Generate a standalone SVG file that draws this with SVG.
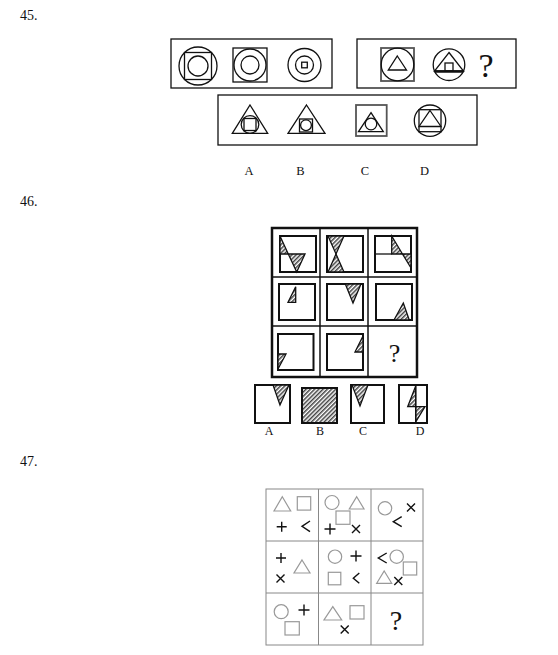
<svg xmlns="http://www.w3.org/2000/svg" width="558" height="655" viewBox="0 0 558 655">
<style>
.t{font-family:"Liberation Serif","Times New Roman",serif;fill:#111}
.k{fill:none;stroke:#111;stroke-width:1.3}
.g{fill:none;stroke:#555;stroke-width:1.8}
.th{fill:none;stroke:#111;stroke-width:2}
.h{fill:url(#hatch);stroke:#111;stroke-width:1.3;stroke-linejoin:miter}
.gr{fill:none;stroke:#999;stroke-width:1.2}
.bk{fill:none;stroke:#111;stroke-width:1.4}
.gl{fill:none;stroke:#888;stroke-width:1}
</style>
<defs>
<pattern id="hatch" patternUnits="userSpaceOnUse" width="3" height="3" patternTransform="rotate(45)">
<rect width="3" height="3" fill="#fff"/>
<line x1="0.8" y1="0" x2="0.8" y2="3" stroke="#111" stroke-width="1.2"/>
</pattern>
</defs>
<rect width="558" height="655" fill="#fff"/>

<g id="labels">
<text class="t" x="20" y="20" font-size="14">45.</text>
<text class="t" x="20" y="206" font-size="14">46.</text>
<text class="t" x="20" y="466" font-size="14">47.</text>
</g>

<!-- Problem 45 -->
<g id="q45-box1">
<rect class="k" x="171" y="39" width="161" height="49"/>
<circle class="k" cx="198" cy="66" r="19"/>
<rect class="k" x="184.5" y="52.5" width="27" height="27"/>
<circle class="k" cx="198" cy="66" r="10"/>
<rect class="k" x="233" y="48" width="34" height="34"/>
<circle class="k" cx="250" cy="65" r="16"/>
<circle class="k" cx="250" cy="65" r="9"/>
<circle class="k" cx="304.5" cy="65" r="16.5"/>
<circle class="k" cx="304.5" cy="65" r="9"/>
<rect class="k" x="301.7" y="62.2" width="5.6" height="5.6"/>
</g>
<g id="q45-box2">
<rect class="k" x="357" y="39" width="159" height="49"/>
<rect class="g" x="381" y="48" width="33" height="33"/>
<circle class="k" cx="397.5" cy="64.5" r="16.3"/>
<polygon class="k" points="397.3,56 406.5,70 388.3,70"/>
<circle class="k" cx="449" cy="64.7" r="15.8"/>
<polygon class="k" points="449,52.5 463.5,71 434.5,71"/>
<line x1="434.5" y1="71.5" x2="463.5" y2="71.5" stroke="#111" stroke-width="2.5"/>
<rect class="k" x="445" y="63" width="8" height="8"/>
<text class="t" x="486" y="77" font-size="34" text-anchor="middle">?</text>
</g>
<g id="q45-options">
<rect class="k" x="218" y="95" width="259" height="50"/>
<polygon class="k" points="250,105 267.7,133.3 232.3,133.3"/>
<circle class="k" cx="250" cy="124.5" r="8.8"/>
<rect class="k" x="244" y="118.5" width="12" height="12"/>
<polygon class="k" points="306.5,105 325,133.3 288,133.3"/>
<rect class="k" x="299.5" y="119" width="13" height="13"/>
<circle class="k" cx="306" cy="125.2" r="5.4"/>
<rect class="g" x="356" y="105" width="30.7" height="31"/>
<polygon class="k" points="371,112.7 383.3,131.7 358.5,131.7"/>
<circle class="k" cx="371" cy="124" r="5.8"/>
<circle class="k" cx="430" cy="120.7" r="15.7"/>
<rect class="k" x="419" y="109.7" width="22" height="22"/>
<polygon class="k" points="430,110.5 441,126.5 419,126.5"/>
</g>
<g id="q45-letters">
<text class="t" x="249" y="175" font-size="12.5" text-anchor="middle">A</text>
<text class="t" x="300.5" y="175" font-size="12.5" text-anchor="middle">B</text>
<text class="t" x="365" y="175" font-size="12.5" text-anchor="middle">C</text>
<text class="t" x="424.5" y="175" font-size="12.5" text-anchor="middle">D</text>
</g>

<!-- Problem 46 -->
<g id="q46-grid">
<rect x="272" y="228" width="145" height="149" fill="none" stroke="#111" stroke-width="2.5"/>
<line x1="320" y1="228" x2="320" y2="377" stroke="#111" stroke-width="1.5"/>
<line x1="368" y1="228" x2="368" y2="377" stroke="#111" stroke-width="1.5"/>
<line x1="272" y1="277" x2="417" y2="277" stroke="#111" stroke-width="1.5"/>
<line x1="272" y1="326" x2="417" y2="326" stroke="#111" stroke-width="1.5"/>
</g>
<g id="q46-c11" transform="translate(280,236)">
<rect class="th" width="36" height="36"/>
<polygon class="h" points="0,0 0,18 8.3,18"/>
<polygon class="h" points="8.3,18 25,18 16.7,36"/>
</g>
<g id="q46-c12" transform="translate(327,236)">
<rect class="th" width="36" height="36"/>
<polygon class="h" points="1,0 17,0 9,18"/>
<polygon class="h" points="9,18 17,36 1,36"/>
</g>
<g id="q46-c13" transform="translate(375,236)">
<rect class="th" width="36" height="36"/>
<polygon class="h" points="16.7,0 16.7,18 27.5,18"/>
<polygon class="h" points="27.5,18 36,18 36,32"/>
<line x1="0" y1="18" x2="16.7" y2="18" stroke="#111" stroke-width="1.3"/>
</g>
<g id="q46-c21" transform="translate(279,284)">
<rect class="th" width="36" height="36"/>
<polygon class="h" points="16.7,2.7 16.7,18.3 9,18.3"/>
</g>
<g id="q46-c22" transform="translate(327,284)">
<rect class="th" width="36" height="36"/>
<polygon class="h" points="18.3,0 34,0 26,19"/>
</g>
<g id="q46-c23" transform="translate(376,284)">
<rect class="th" width="36" height="36"/>
<polygon class="h" points="27.3,19 33.3,36 18,36"/>
</g>
<g id="q46-c31" transform="translate(278,334)">
<rect class="th" width="35.5" height="36"/>
<polygon class="h" points="0,20 8,20 0,35"/>
</g>
<g id="q46-c32" transform="translate(327,334)">
<rect class="th" width="36" height="36"/>
<polygon class="h" points="36,2 36,18 28,18"/>
</g>
<g id="q46-c33">
<text class="t" x="394.5" y="362" font-size="26" text-anchor="middle">?</text>
</g>
<g id="q46-optA" transform="translate(255,385)">
<rect class="th" width="35" height="38"/>
<polygon class="h" points="18,0 34,0 25,20"/>
</g>
<g id="q46-optB" transform="translate(302,388)">
<rect width="35" height="35" style="fill:url(#hatch);stroke:#111;stroke-width:2"/>
</g>
<g id="q46-optC" transform="translate(351,385)">
<rect class="th" width="33" height="38"/>
<polygon class="h" points="1,0 17,0 9,21"/>
</g>
<g id="q46-optD" transform="translate(399,385)">
<rect class="th" width="28" height="38"/>
<polygon class="h" points="16.7,1 16.7,21.7 8.7,21.7"/>
<polygon class="h" points="16.7,21.7 26,21.7 16.7,37"/>
<line x1="16.7" y1="0" x2="16.7" y2="38" stroke="#111" stroke-width="1.3"/>
</g>
<g id="q46-letters">
<text class="t" x="269" y="435" font-size="12" text-anchor="middle">A</text>
<text class="t" x="320" y="435" font-size="12" text-anchor="middle">B</text>
<text class="t" x="363" y="435" font-size="12" text-anchor="middle">C</text>
<text class="t" x="420" y="435" font-size="12" text-anchor="middle">D</text>
</g>

<!-- Problem 47 -->
<g id="q47-grid">
<rect class="gl" x="266" y="489" width="157" height="156"/>
<line class="gl" x1="318.5" y1="489" x2="318.5" y2="645"/>
<line class="gl" x1="371" y1="489" x2="371" y2="645"/>
<line class="gl" x1="266" y1="541" x2="423" y2="541"/>
<line class="gl" x1="266" y1="593" x2="423" y2="593"/>
</g>
<g id="q47-c11">
<polygon class="gr" points="282.3,496.7 290.7,511 274,511"/>
<rect class="gr" x="297.3" y="496.7" width="13.4" height="13.4"/>
<path class="bk" d="M276.7,526.7H286.7M281.7,521.7V531.7"/>
<polyline class="bk" points="310,521 302,526.3 310,531.7"/>
</g>
<g id="q47-c12">
<circle class="gr" cx="332" cy="502.5" r="7"/>
<polygon class="gr" points="356.7,496.7 364,509 349.3,509"/>
<rect class="gr" x="336" y="511" width="14" height="13.3"/>
<path class="bk" d="M324.5,529H335.5M330,523.5V534.5"/>
<path class="bk" d="M352,525L360,533M360,525L352,533"/>
</g>
<g id="q47-c13">
<circle class="gr" cx="385" cy="508.3" r="6.7"/>
<path class="bk" d="M407,503.5L415,511.5M415,503.5L407,511.5"/>
<polyline class="bk" points="401.7,516.7 393.3,521.7 401.7,526.7"/>
</g>
<g id="q47-c21">
<path class="bk" d="M276,558H286M281,553V563"/>
<polygon class="gr" points="302,560 310,573 294,573"/>
<path class="bk" d="M276.5,574.5L284.5,582.5M284.5,574.5L276.5,582.5"/>
</g>
<g id="q47-c22">
<circle class="gr" cx="335" cy="556.7" r="6.7"/>
<path class="bk" d="M350.5,556H361.5M356,550.5V561.5"/>
<rect class="gr" x="328.3" y="572.3" width="12.5" height="12.5"/>
<polyline class="bk" points="359.3,573 353.3,578.2 359.3,583.3"/>
</g>
<g id="q47-c23">
<polyline class="bk" points="386.7,553 378.3,558 386.7,563"/>
<circle class="gr" cx="396.7" cy="556.7" r="6.7"/>
<rect class="gr" x="403.3" y="562" width="13.4" height="13"/>
<polygon class="gr" points="384.2,571 391.7,583.3 376.7,583.3"/>
<path class="bk" d="M394.3,577L402.3,585M402.3,577L394.3,585"/>
</g>
<g id="q47-c31">
<circle class="gr" cx="281.2" cy="611.7" r="7"/>
<path class="bk" d="M298.5,610H309.5M304,604.5V615.5"/>
<rect class="gr" x="285" y="621.7" width="14.3" height="13.3"/>
</g>
<g id="q47-c32">
<polygon class="gr" points="332.8,606.7 341.7,620 324,620"/>
<rect class="gr" x="350" y="605.7" width="14" height="13.3"/>
<path class="bk" d="M340.7,625.5L348.7,633.5M348.7,625.5L340.7,633.5"/>
</g>
<g id="q47-c33">
<text class="t" x="396" y="630" font-size="28" text-anchor="middle">?</text>
</g>
</svg>
